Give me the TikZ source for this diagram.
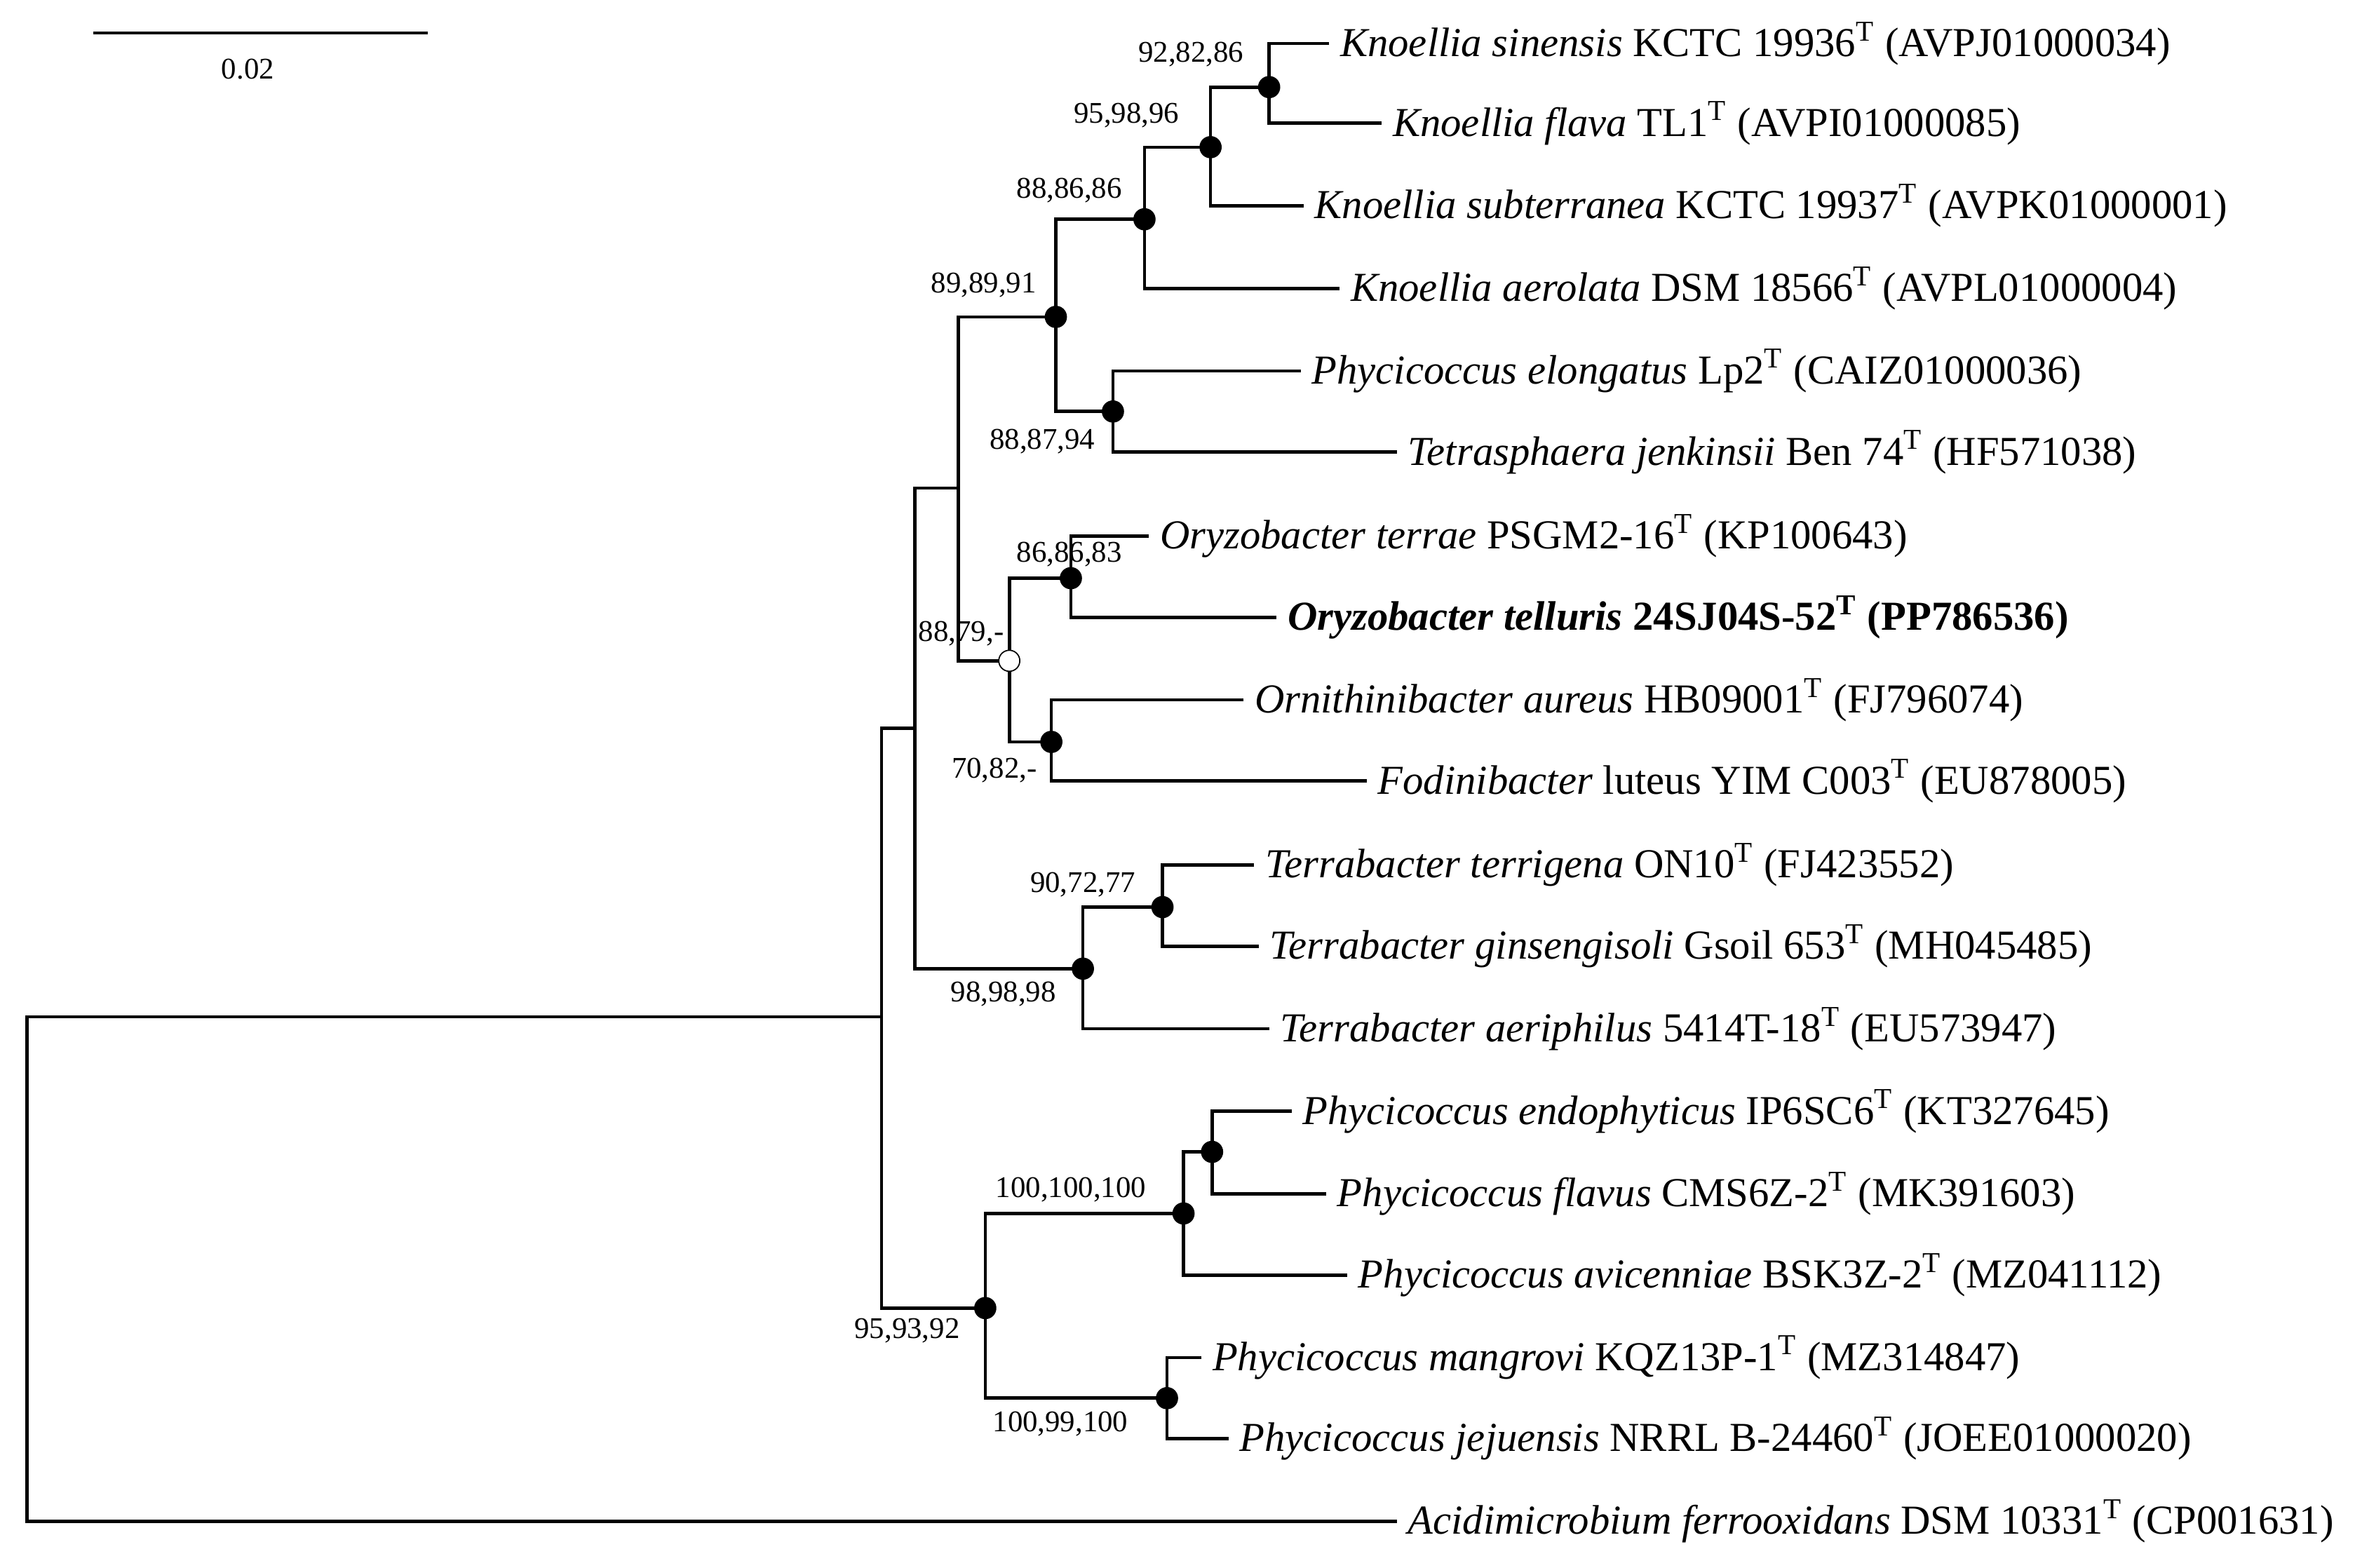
\documentclass[tikz,border=0pt]{standalone}
\usepackage{fontspec}
\setmainfont{Liberation Serif}
\begin{document}
\begin{tikzpicture}[x=0.5pt,y=-0.5pt,
  leaf/.style={anchor=west,inner sep=3.5pt,font=\fontsize{13.7}{15}\selectfont},
  bs/.style={font=\fontsize{10}{11}\selectfont,inner sep=1pt},
  br/.style={line width=1.1pt},
  dot/.style={circle,fill=black,draw=black,minimum size=7pt,inner sep=0pt},
  odot/.style={circle,fill=white,draw=black,minimum size=7pt,inner sep=0pt}]
\useasboundingbox (0,0) rectangle (1568,1044);
% internal nodes
\coordinate (A) at (845,58);
\coordinate (B) at (806,98);
\coordinate (C) at (762,146);
\coordinate (D) at (741,274);
\coordinate (E) at (703,211);
\coordinate (F) at (713,385);
\coordinate (G) at (700,494);
\coordinate (H) at (672,440);
\coordinate (I) at (638,325);
\coordinate (K) at (774,604);
\coordinate (L) at (721,645);
\coordinate (J) at (609,485);
\coordinate (N) at (807,767);
\coordinate (O) at (788,808);
\coordinate (P) at (777,931);
\coordinate (Q) at (656,871);
\coordinate (M) at (587,677);
\coordinate (R) at (18,677);
% leaves
\node[leaf] (l1) at (885,29) {\textit{Knoellia sinensis} KCTC 19936\textsuperscript{T} (AVPJ01000034)};
\node[leaf] (l2) at (920,82) {\textit{Knoellia flava} TL1\textsuperscript{T} (AVPI01000085)};
\node[leaf] (l3) at (868,137) {\textit{Knoellia subterranea} KCTC 19937\textsuperscript{T} (AVPK01000001)};
\node[leaf] (l4) at (892,192) {\textit{Knoellia aerolata} DSM 18566\textsuperscript{T} (AVPL01000004)};
\node[leaf] (l5) at (866,247) {\textit{Phycicoccus elongatus} Lp2\textsuperscript{T} (CAIZ01000036)};
\node[leaf] (l6) at (930,301) {\textit{Tetrasphaera jenkinsii} Ben 74\textsuperscript{T} (HF571038)};
\node[leaf] (l7) at (765,357) {\textit{Oryzobacter terrae} PSGM2-16\textsuperscript{T} (KP100643)};
\node[leaf] (l8) at (850,411) {\textbf{\textit{Oryzobacter telluris} 24SJ04S-52\textsuperscript{T} (PP786536)}};
\node[leaf] (l9) at (828,466) {\textit{Ornithinibacter aureus} HB09001\textsuperscript{T} (FJ796074)};
\node[leaf] (l10) at (910,520) {\textit{Fodinibacter} luteus YIM C003\textsuperscript{T} (EU878005)};
\node[leaf] (l11) at (835,576) {\textit{Terrabacter terrigena} ON10\textsuperscript{T} (FJ423552)};
\node[leaf] (l12) at (838,630) {\textit{Terrabacter ginsengisoli} Gsoil 653\textsuperscript{T} (MH045485)};
\node[leaf] (l13) at (845,685) {\textit{Terrabacter aeriphilus} 5414T-18\textsuperscript{T} (EU573947)};
\node[leaf] (l14) at (860,740) {\textit{Phycicoccus endophyticus} IP6SC6\textsuperscript{T} (KT327645)};
\node[leaf] (l15) at (883,795) {\textit{Phycicoccus flavus} CMS6Z-2\textsuperscript{T} (MK391603)};
\node[leaf] (l16) at (897,849) {\textit{Phycicoccus avicenniae} BSK3Z-2\textsuperscript{T} (MZ041112)};
\node[leaf] (l17) at (800,904) {\textit{Phycicoccus mangrovi} KQZ13P-1\textsuperscript{T} (MZ314847)};
\node[leaf] (l18) at (818,958) {\textit{Phycicoccus jejuensis} NRRL B-24460\textsuperscript{T} (JOEE01000020)};
\node[leaf] (l19) at (930,1013) {\textit{Acidimicrobium ferrooxidans} DSM 10331\textsuperscript{T} (CP001631)};
% branches
\draw[br] (l1.west) -| (A) |- (l2.west);
\draw[br] (A) -| (B) |- (l3.west);
\draw[br] (B) -| (C) |- (l4.west);
\draw[br] (l5.west) -| (D) |- (l6.west);
\draw[br] (C) -| (E) |- (D);
\draw[br] (l7.west) -| (F) |- (l8.west);
\draw[br] (l9.west) -| (G) |- (l10.west);
\draw[br] (F) -| (H) |- (G);
\draw[br] (E) -| (I) |- (H);
\draw[br] (l11.west) -| (K) |- (l12.west);
\draw[br] (K) -| (L) |- (l13.west);
\draw[br] (I) -| (J) |- (L);
\draw[br] (l14.west) -| (N) |- (l15.west);
\draw[br] (N) -| (O) |- (l16.west);
\draw[br] (l17.west) -| (P) |- (l18.west);
\draw[br] (O) -| (Q) |- (P);
\draw[br] (J) -| (M) |- (Q);
\draw[br] (M) -- (R) |- (l19.west);
% dots
\foreach \n in {A,B,C,D,E,F,G,K,L,N,O,P,Q} \node[dot] at (\n) {};
\node[odot] at (H) {};
% bootstrap labels
\node[bs] at (793,36) {92,82,86};
\node[bs] at (750,77) {95,98,96};
\node[bs] at (712,127) {88,86,86};
\node[bs] at (655,190) {89,89,91};
\node[bs] at (694,294) {88,87,94};
\node[bs] at (712,369) {86,86,83};
\node[bs] at (640,422) {88,79,-};
\node[bs] at (662,513) {70,82,-};
\node[bs] at (721,589) {90,72,77};
\node[bs] at (668,662) {98,98,98};
\node[bs] at (713,792) {100,100,100};
\node[bs] at (604,886) {95,93,92};
\node[bs] at (706,948) {100,99,100};
% scale bar
\coordinate (s1) at (62,22);
\coordinate (s2) at (285,22);
\draw[br] (s1) -- (s2);
\node[bs] (sl) at (165,46) {0.02};
\end{tikzpicture}
\end{document}
